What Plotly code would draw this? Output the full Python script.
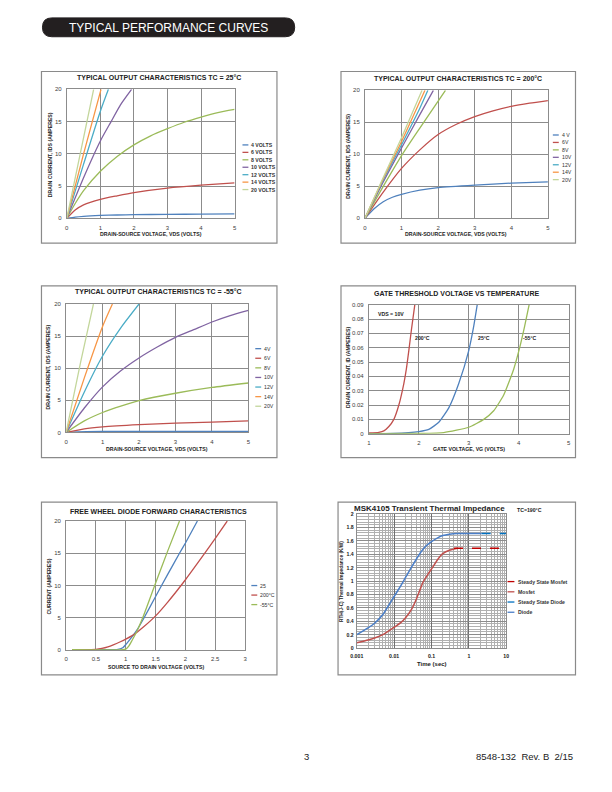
import plotly.graph_objects as go

W, H = 612, 792
def X(px): return px / W
def Y(py): return 1 - py / H

# ---------------- colours ----------------
C_BLUE, C_RED, C_GREEN = "#4F81BD", "#C0504D", "#9BBB59"
C_PURPLE, C_AQUA, C_ORANGE, C_LGREEN = "#8064A2", "#4BACC6", "#F79646", "#C3D69B"
GRID = "#8C8C8C"
FONT = "Liberation Sans"

# ---------------- data: 25C output characteristics ----------------
p1_names = ["4 VOLTS", "6 VOLTS", "8 VOLTS", "10 VOLTS", "12 VOLTS", "14 VOLTS", "20 VOLTS"]
p1_4_x = [0, 0.25, 0.5, 1, 1.5, 2, 3, 4, 5]
p1_4_y = [0, 0.2, 0.32, 0.45, 0.52, 0.57, 0.62, 0.65, 0.68]
p1_6_x = [0, 0.25, 0.5, 1, 1.5, 2, 3, 4, 5]
p1_6_y = [0, 1.3, 2.1, 2.95, 3.5, 4.0, 4.7, 5.15, 5.5]
p1_8_x = [0, 0.25, 0.5, 1, 1.5, 2, 2.5, 3, 3.5, 4, 4.5, 5]
p1_8_y = [0, 2.3, 4.3, 7.3, 9.6, 11.4, 12.8, 13.9, 14.9, 15.7, 16.4, 16.9]
p1_10_x = [0, 0.5, 1, 1.32, 1.6, 1.93]
p1_10_y = [0, 6.3, 12.0, 15, 17.6, 20]
p1_12_x = [0, 0.5, 1, 1.24]
p1_12_y = [0, 8.4, 16.6, 20]
p1_14_x = [0, 0.5, 1.02]
p1_14_y = [0, 10, 20]
p1_20_x = [0, 0.4, 0.8]
p1_20_y = [0, 10, 20]

# ---------------- data: 200C output characteristics ----------------
p2_names = ["4 V", "6V", "8V", "10V", "12V", "14V", "20V"]
p2_4_x = [0, 0.25, 0.5, 0.75, 1, 1.5, 2, 3, 4, 5]
p2_4_y = [0, 1.5, 2.6, 3.3, 3.75, 4.4, 4.8, 5.2, 5.5, 5.7]
p2_6_x = [0, 0.5, 1, 1.5, 2, 2.5, 3, 3.5, 4, 4.5, 5]
p2_6_y = [0, 4.1, 7.8, 10.7, 13.1, 14.7, 15.9, 16.8, 17.5, 18.0, 18.4]
p2_8_x = [0, 0.5, 1, 1.5, 2.2]
p2_8_y = [0, 5, 9.8, 14.1, 20]
p2_10_x = [0, 0.5, 1, 1.5, 1.87]
p2_10_y = [0, 5.7, 11, 16.2, 20]
p2_12_x = [0, 0.5, 1, 1.5, 1.72]
p2_12_y = [0, 6, 11.5, 17.2, 20]
p2_14_x = [0, 0.5, 1, 1.64]
p2_14_y = [0, 6.2, 12, 20]
p2_20_x = [0, 0.5, 1, 1.56]
p2_20_y = [0, 6.4, 12.6, 20]

# ---------------- data: -55C output characteristics ----------------
p3_names = ["4V", "6V", "8V", "10V", "12V", "14V", "20V"]
p3_4_x = [0, 0.3, 1, 2, 3, 4, 5]
p3_4_y = [0, 0.1, 0.15, 0.15, 0.15, 0.15, 0.15]
p3_6_x = [0, 0.5, 1, 2, 3, 4, 5]
p3_6_y = [0, 0.55, 0.85, 1.2, 1.45, 1.6, 1.8]
p3_8_x = [0, 0.5, 1, 1.5, 2, 3, 4, 5]
p3_8_y = [0, 1.8, 3.1, 4.1, 4.95, 6.1, 7.0, 7.7]
p3_10_x = [0, 0.5, 1, 1.5, 2, 2.5, 3, 3.5, 4, 4.5, 5]
p3_10_y = [0, 3.8, 7.1, 9.6, 11.6, 13.3, 14.8, 16, 17.2, 18.2, 19]
p3_12_x = [0, 0.5, 1, 1.5, 2]
p3_12_y = [0, 6.3, 11.9, 16.3, 20]
p3_14_x = [0, 0.5, 1, 1.27]
p3_14_y = [0, 8.5, 16.5, 20]
p3_20_x = [0, 0.4, 0.75]
p3_20_y = [0, 11, 20]

# ---------------- data: gate threshold ----------------
p4_200_x = [1, 1.2, 1.3, 1.4, 1.5, 1.6, 1.7, 1.75, 1.8, 1.85, 1.92]
p4_200_y = [0.0005, 0.001, 0.002, 0.005, 0.01, 0.02, 0.035, 0.045, 0.058, 0.072, 0.09]
p4_25_x = [1, 1.5, 2, 2.2, 2.4, 2.6, 2.8, 3.0, 3.1, 3.17]
p4_25_y = [0, 0.0002, 0.0015, 0.003, 0.008, 0.018, 0.035, 0.058, 0.075, 0.09]
p4_m55_x = [1, 2, 2.5, 3, 3.3, 3.5, 3.7, 3.9, 4.02, 4.12, 4.21]
p4_m55_y = [0, 0.0002, 0.0008, 0.0045, 0.01, 0.016, 0.027, 0.045, 0.06, 0.075, 0.09]
p4_labels = ["VDS = 10V", "200°C", "25°C", "-55°C"]
p4_label_x = [1.15, 1.88, 3.14, 4.05]
p4_label_y = [0.0838, 0.067, 0.067, 0.067]

# ---------------- data: free wheel diode ----------------
p5_names = ["25", "200°C", "-55°C"]
p5_25_x = [0.1, 0.5, 0.85, 0.95, 1.0, 1.1, 1.2, 1.3, 1.5, 1.7, 1.9, 2.0, 2.2]
p5_25_y = [0.05, 0.05, 0.08, 0.35, 0.85, 2.0, 3.3, 4.9, 8.3, 11.7, 15.0, 16.6, 20]
p5_200_x = [0.1, 0.5, 0.6, 0.7, 0.8, 0.9, 1.0, 1.1, 1.2, 1.3, 1.5, 1.7, 2.0, 2.3, 2.5, 2.7]
p5_200_y = [0.05, 0.1, 0.25, 0.5, 0.85, 1.25, 1.7, 2.2, 2.85, 3.6, 5.3, 7.4, 10.9, 14.7, 17.3, 20]
p5_m55_x = [0.1, 0.95, 1.0, 1.05, 1.1, 1.2, 1.3, 1.5, 1.7, 1.9]
p5_m55_y = [0.05, 0.05, 0.15, 0.6, 1.4, 3.2, 5.4, 10.4, 15.3, 20]

# ---------------- data: transient thermal impedance ----------------
p6_names = ["Steady State Mosfet", "Mosfet", "Steady State Diode", "Diode"]
p6_mos_x = [0.001, 0.002, 0.003, 0.005, 0.01, 0.015, 0.02, 0.03, 0.04, 0.05, 0.06, 0.08, 0.1, 0.15, 0.2, 0.3, 0.4, 0.5]
p6_mos_y = [0.08, 0.12, 0.15, 0.2, 0.31, 0.38, 0.45, 0.59, 0.74, 0.88, 0.99, 1.1, 1.18, 1.33, 1.41, 1.46, 1.48, 1.49]
p6_dio_x = [0.001, 0.002, 0.003, 0.005, 0.01, 0.015, 0.02, 0.03, 0.05, 0.07, 0.1, 0.15, 0.2, 0.3, 0.5, 1, 2.2]
p6_dio_y = [0.2, 0.3, 0.37, 0.5, 0.77, 0.93, 1.05, 1.22, 1.42, 1.52, 1.59, 1.65, 1.68, 1.7, 1.71, 1.71, 1.71]
p6_ssm_x = [0.4, 10]
p6_ssm_y = [1.49, 1.49]
p6_ssd_x = [2.2, 10]
p6_ssd_y = [1.71, 1.71]

# ---------------- build figure ----------------
fig = go.Figure()
layout = {}
shapes = []
annots = []

def add_axes(i, xpx, ypx, xrange, yrange, xtv, ytv, xtt=None, ytt=None, xlog=False, bold=False,
             minor_y=None, ystand=3):
    xs = "xaxis" if i == 1 else f"xaxis{i}"
    ys = "yaxis" if i == 1 else f"yaxis{i}"
    tf = dict(family=FONT, size=6, color="#404040")
    if bold:
        tf = dict(family=FONT, size=5.2, color="#202020", weight="bold")
    xa = dict(domain=[X(xpx[0]), X(xpx[1])], range=xrange, anchor="y" if i == 1 else f"y{i}",
              showgrid=True, gridcolor=GRID, gridwidth=1, showline=True, mirror=True,
              linecolor=GRID, linewidth=1, zeroline=False, tickvals=xtv, ticktext=xtt,
              tickfont=tf, ticks="", ticklabelstandoff=3, fixedrange=True)
    ya = dict(domain=[Y(ypx[1]), Y(ypx[0])], range=yrange, anchor="x" if i == 1 else f"x{i}",
              showgrid=True, gridcolor=GRID, gridwidth=1, showline=True, mirror=True,
              linecolor=GRID, linewidth=1, zeroline=False, tickvals=ytv, ticktext=ytt,
              tickfont=tf, ticks="", ticklabelstandoff=ystand, fixedrange=True)
    if xlog:
        xa["type"] = "log"
        xa["minor"] = dict(showgrid=True, gridcolor="#B0B0B0", gridwidth=0.8, dtick="D1")
        xa["gridcolor"] = "#6E6E6E"
    if minor_y:
        ya["minor"] = dict(showgrid=True, gridcolor="#B0B0B0", gridwidth=0.8, dtick=minor_y)
    layout[xs] = xa
    layout[ys] = ya

def add_line(i, x, y, color, width=1.3, dash=None, smooth=0.6):
    fig.add_trace(go.Scatter(x=x, y=y, mode="lines", showlegend=False, hoverinfo="skip",
                             line=dict(color=color, width=width, dash=dash, shape="spline",
                                       smoothing=smooth),
                             xaxis="x" if i == 1 else f"x{i}", yaxis="y" if i == 1 else f"y{i}"))

def frame(x0, y0, x1, y1):
    shapes.append(dict(type="rect", xref="paper", yref="paper", x0=X(x0), x1=X(x1),
                       y0=Y(y1), y1=Y(y0), line=dict(color="#8A8A8A", width=1.2)))

def text(px, py, s, size=6, bold=False, angle=0, xanchor="center", color="#222222"):
    if bold:
        s = f"<b>{s}</b>"
    annots.append(dict(x=X(px), y=Y(py), xref="paper", yref="paper", text=s, showarrow=False,
                       xanchor=xanchor, yanchor="middle", textangle=angle,
                       font=dict(family=FONT, size=size, color=color)))

def legend(lx0, lx1, ty, y0, step, names, colors, dashes=None, bold=False, size=5.5):
    for k, (n, c) in enumerate(zip(names, colors)):
        yy = y0 + k * step
        d = dashes[k] if dashes else "solid"
        shapes.append(dict(type="line", xref="paper", yref="paper", x0=X(lx0), x1=X(lx1),
                           y0=Y(yy), y1=Y(yy), line=dict(color=c, width=1.3, dash=d)))
        text(ty, yy, n, size=size, bold=bold, xanchor="left", color="#333333")

# ---- Panel 1 ----
frame(36, 69, 275, 242)
add_axes(1, (61.7, 232), (87, 217), [0, 5], [0, 20], [0, 1, 2, 3, 4, 5], [0, 5, 10, 15, 20])
p1_cols = [C_BLUE, C_RED, C_GREEN, C_PURPLE, C_AQUA, C_ORANGE, C_LGREEN]
for (xx, yy), c in zip([(p1_4_x, p1_4_y), (p1_6_x, p1_6_y), (p1_8_x, p1_8_y), (p1_10_x, p1_10_y),
                        (p1_12_x, p1_12_y), (p1_14_x, p1_14_y), (p1_20_x, p1_20_y)], p1_cols):
    add_line(1, xx, yy, c)
text(155.5, 75.5, "TYPICAL OUTPUT CHARACTERISTICS TC = 25°C", size=7, bold=True)
text(147, 233, "DRAIN-SOURCE VOLTAGE, VDS (VOLTS)", size=5.2, bold=True)
text(45, 153, "DRAIN CURRENT, IDS (AMPERES)", size=5.2, bold=True, angle=-90)
legend(240, 246, 247, 143, 7.5, p1_names, p1_cols, bold=True, size=5.2)

# ---- Panel 2 ----
frame(340, 69, 578, 242)
add_axes(2, (364.3, 550), (88, 217), [0, 5], [0, 20], [0, 1, 2, 3, 4, 5], [0, 5, 10, 15, 20])
for (xx, yy), c in zip([(p2_4_x, p2_4_y), (p2_6_x, p2_6_y), (p2_8_x, p2_8_y), (p2_10_x, p2_10_y),
                        (p2_12_x, p2_12_y), (p2_14_x, p2_14_y), (p2_20_x, p2_20_y)], p1_cols):
    add_line(2, xx, yy, c)
text(458.5, 76, "TYPICAL OUTPUT CHARACTERISTICS TC = 200°C", size=7, bold=True)
text(456.7, 233, "DRAIN-SOURCE VOLTAGE, VDS (VOLTS)", size=5.2, bold=True)
text(347, 154, "DRAIN CURRENT, IDS (AMPERES)", size=5.2, bold=True, angle=-90)
legend(555, 561, 562, 133, 7.5, p2_names, p1_cols, size=5.2)

# ---- Panel 3 ----
frame(36, 285, 275, 458)
add_axes(3, (61, 246), (303.3, 432.7), [0, 5], [0, 20], [0, 1, 2, 3, 4, 5], [0, 5, 10, 15, 20])
for (xx, yy), c in zip([(p3_4_x, p3_4_y), (p3_6_x, p3_6_y), (p3_8_x, p3_8_y), (p3_10_x, p3_10_y),
                        (p3_12_x, p3_12_y), (p3_14_x, p3_14_y), (p3_20_x, p3_20_y)], p1_cols):
    add_line(3, xx, yy, c)
text(154.5, 291, "TYPICAL OUTPUT CHARACTERISTICS TC = -55°C", size=7, bold=True)
text(153, 449, "DRAIN-SOURCE VOLTAGE, VDS (VOLTS)", size=5.2, bold=True)
text(43, 367, "DRAIN CURRENT, IDS (AMPERES)", size=5.2, bold=True, angle=-90)
legend(253, 259, 260, 348.3, 9.67, p3_names, p1_cols, size=5.2)

# ---- Panel 4 ----
frame(340, 285, 578, 458)
p4_ytv = [0, 0.01, 0.02, 0.03, 0.04, 0.05, 0.06, 0.07, 0.08, 0.09]
p4_ytt = ["0", "0.01", "0.02", "0.03", "0.04", "0.05", "0.06", "0.07", "0.08", "0.09"]
add_axes(4, (368.3, 571), (304, 434), [1, 5], [0, 0.09], [1, 2, 3, 4, 5], p4_ytv, ytt=p4_ytt)
add_line(4, p4_200_x, p4_200_y, C_RED, smooth=0.5)
add_line(4, p4_25_x, p4_25_y, C_BLUE, smooth=0.5)
add_line(4, p4_m55_x, p4_m55_y, C_GREEN, smooth=0.5)
for s, lx, ly in zip(p4_labels, p4_label_x, p4_label_y):
    annots.append(dict(x=lx, y=ly, xref="x4", yref="y4", text=f"<b>{s}</b>", showarrow=False,
                       xanchor="left", yanchor="middle", font=dict(family=FONT, size=5.2, color="#222")))
text(457.5, 293, "GATE THRESHOLD VOLTAGE VS TEMPERATURE", size=7, bold=True)
text(470, 449, "GATE VOLTAGE, VG (VOLTS)", size=5.2, bold=True)
text(347, 367, "DRAIN CURRENT, ID (AMPERES)", size=5.2, bold=True, angle=-90)

# ---- Panel 5 ----
frame(36, 503, 275, 677)
add_axes(5, (61, 242.7), (522, 652), [0, 3], [0, 20], [0, 0.5, 1, 1.5, 2, 2.5, 3], [0, 5, 10, 15, 20])
p5_cols = [C_BLUE, C_RED, C_GREEN]
add_line(5, p5_25_x, p5_25_y, C_BLUE, smooth=0.5)
add_line(5, p5_200_x, p5_200_y, C_RED, smooth=0.5)
add_line(5, p5_m55_x, p5_m55_y, C_GREEN, smooth=0.5)
text(155, 512, "FREE WHEEL DIODE FORWARD CHARACTERISTICS", size=7, bold=True)
text(152, 669, "SOURCE TO DRAIN VOLTAGE (VOLTS)", size=5.2, bold=True)
text(44, 587.5, "CURRENT (AMPERES)", size=5.2, bold=True, angle=-90)
legend(249, 255, 256, 587, 9.6, p5_names, p5_cols, size=5.2)

# ---- Panel 6 ----
frame(337, 503, 578, 677)
p6_ytv = [0, 0.2, 0.4, 0.6, 0.8, 1, 1.2, 1.4, 1.6, 1.8, 2]
p6_ytt = ["0", "0.2", "0.4", "0.6", "0.8", "1", "1.2", "1.4", "1.6", "1.8", "2"]
add_axes(6, (356, 507.7), (515, 650), [-3, 1], [0, 2], [0.001, 0.01, 0.1, 1, 10], p6_ytv,
         xtt=["0.001", "0.01", "0.1", "1", "10"], ytt=p6_ytt, xlog=True, bold=True, minor_y=0.04,
         ystand=1)
add_line(6, p6_mos_x, p6_mos_y, C_RED, width=1.5, smooth=0.5)
add_line(6, p6_dio_x, p6_dio_y, "#4A7EC8", width=1.5, smooth=0.5)
add_line(6, p6_ssm_x, p6_ssm_y, "#C00000", width=1.5, dash="dash")
add_line(6, p6_ssd_x, p6_ssd_y, "#0070C0", width=1.5, dash="dash")
text(430, 509, "MSK4105 Transient Thermal Impedance", size=8, bold=True)
text(531, 511, "TC=190°C", size=5.2, bold=True)
text(432, 666, "Time (sec)", size=6, bold=True)
text(340.5, 583, "RTH(J-C) Thermal Impedance (K/W)", size=4.8, bold=True, angle=-90)
legend(509, 516, 518, 583, 10.3, p6_names, ["#C00000", C_RED, "#0070C0", "#4A7EC8"],
       dashes=["dash", "solid", "dash", "solid"], bold=True, size=5.2)

# ---- Header bar ----
x0, x1, y0, y1, r = 37, 293, 15, 34, 9.5
path = (f"M {X(x0 + r)},{Y(y0)} L {X(x1 - r)},{Y(y0)} "
        f"Q {X(x1)},{Y(y0)} {X(x1)},{Y(y0 + r)} "
        f"Q {X(x1)},{Y(y1)} {X(x1 - r)},{Y(y1)} "
        f"L {X(x0 + r)},{Y(y1)} "
        f"Q {X(x0)},{Y(y1)} {X(x0)},{Y(y1 - r)} "
        f"Q {X(x0)},{Y(y0)} {X(x0 + r)},{Y(y0)} Z")
shapes.append(dict(type="path", xref="paper", yref="paper", path=path,
                   fillcolor="#231F20", line=dict(color="#231F20", width=1)))
annots.append(dict(x=X(165), y=Y(25), xref="paper", yref="paper", text="TYPICAL PERFORMANCE CURVES",
                   showarrow=False, xanchor="center", yanchor="middle",
                   font=dict(family=FONT, size=12, color="white")))

# ---- Footer ----
annots.append(dict(x=X(305), y=Y(759), xref="paper", yref="paper", text="3", showarrow=False,
                   xanchor="center", yanchor="middle", font=dict(family=FONT, size=9.5, color="#222")))
annots.append(dict(x=X(475), y=Y(759), xref="paper", yref="paper", text="8548-132  Rev. B  2/15",
                   showarrow=False, xanchor="left", yanchor="middle",
                   font=dict(family=FONT, size=9.5, color="#222")))

fig.update_layout(width=W, height=H, autosize=False, margin=dict(l=0, r=0, t=0, b=0),
                  paper_bgcolor="white", plot_bgcolor="white", showlegend=False,
                  shapes=shapes, annotations=annots, **layout)
fig.write_html("out.html", config={"displayModeBar": False},
               post_script="document.documentElement.style.margin='0';"
                           "document.body.style.margin='0';document.body.style.padding='0';"
                           "document.body.style.overflow='hidden';"
                           "document.documentElement.style.overflow='hidden';"
                           "var gd=document.getElementById('{plot_id}');"
                           "gd.style.position='fixed';gd.style.left='0px';gd.style.top='0px';")
